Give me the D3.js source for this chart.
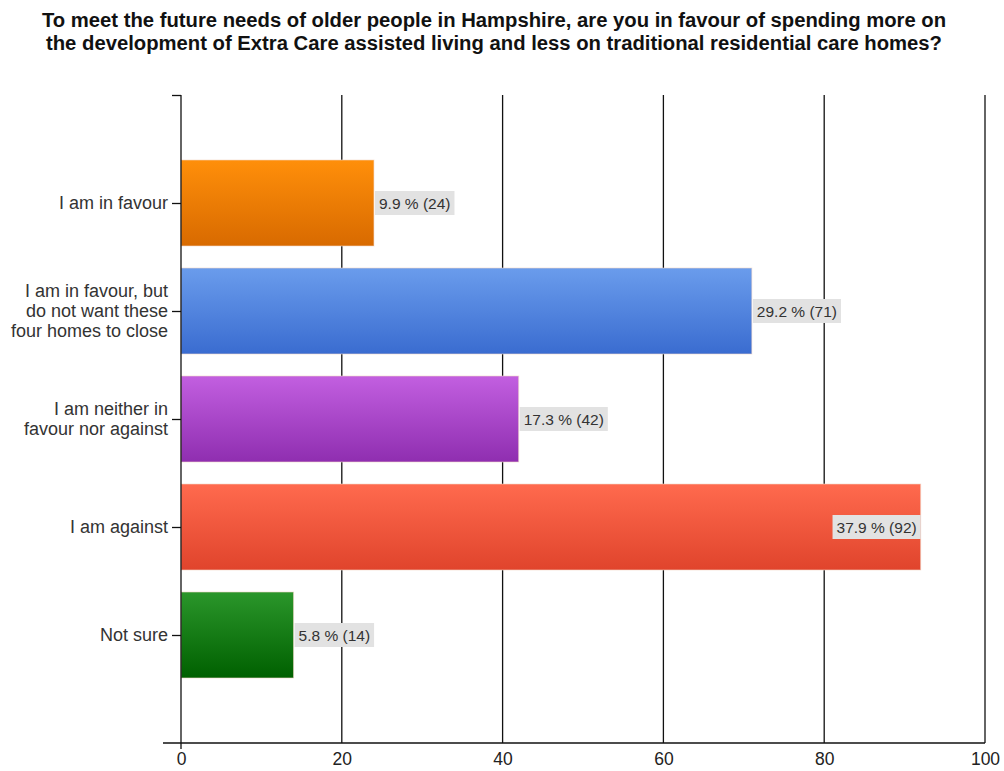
<!DOCTYPE html>
<html>
<head>
<meta charset="utf-8">
<script src="https://cdn.jsdelivr.net/npm/d3@7"></script>
<style>
  body { margin: 0; background: #fff; }
  svg { display: block; }
</style>
</head>
<body>
<svg id="chart" width="1004" height="771"></svg>
<script>
// Survey responses
const categories = [
  "I am in favour",
  "I am in favour, but do not want these four homes to close",
  "I am neither in favour nor against",
  "I am against",
  "Not sure"
];
const categoryLines = [
  ["I am in favour"],
  ["I am in favour, but", "do not want these", "four homes to close"],
  ["I am neither in", "favour nor against"],
  ["I am against"],
  ["Not sure"]
];
const counts = [24, 71, 42, 92, 14];
const percents = [9.9, 29.2, 17.3, 37.9, 5.8];
const xTicks = [0, 20, 40, 60, 80, 100];
const titleLines = [
  "To meet the future needs of older people in Hampshire, are you in favour of spending more on",
  "the development of Extra Care assisted living and less on traditional residential care homes?"
];
const barColors = [
  ["#ff8f0a", "#d86a00"],
  ["#6a9cec", "#3a6cd0"],
  ["#c25fe0", "#8f2eb0"],
  ["#ff6a4e", "#e0442c"],
  ["#2b962b", "#006000"]
];

const FONT = "Liberation Sans, Arial, sans-serif";
const svg = d3.select("#chart");
const plotL = 181, plotR = 985, plotT = 95, plotB = 743;

const x = d3.scaleLinear().domain([0, 100]).range([plotL, plotR]);
// one empty slot above and below the five categories
const y = d3.scalePoint().domain(["", ...categories, " "]).range([plotT, plotB]);
const barH = 86;

// gradients
const defs = svg.append("defs");
barColors.forEach((c, i) => {
  const g = defs.append("linearGradient").attr("id", "g" + i)
    .attr("x1", 0).attr("y1", 0).attr("x2", 0).attr("y2", 1);
  g.append("stop").attr("offset", "0%").attr("stop-color", c[0]);
  g.append("stop").attr("offset", "100%").attr("stop-color", c[1]);
});

// title
svg.append("g").selectAll("text").data(titleLines).join("text")
  .attr("x", 494).attr("y", (d, i) => 27 + i * 23)
  .attr("text-anchor", "middle")
  .attr("font-family", FONT)
  .attr("font-weight", "bold").attr("font-size", 20)
  .attr("fill", "#111")
  .attr("textLength", (d, i) => i === 0 ? 904 : 896)
  .attr("lengthAdjust", "spacingAndGlyphs")
  .text(d => d);

// vertical gridlines
svg.append("g").selectAll("line").data(xTicks.slice(1)).join("line")
  .attr("x1", d => x(d)).attr("x2", d => x(d))
  .attr("y1", plotT).attr("y2", plotB)
  .attr("stroke", "#111").attr("stroke-width", 1.3);

// bars
svg.append("g").selectAll("rect").data(categories).join("rect")
  .attr("x", x(0))
  .attr("y", d => y(d) - barH / 2)
  .attr("width", (d, i) => x(counts[i]) - x(0))
  .attr("height", barH)
  .attr("fill", (d, i) => `url(#g${i})`)
  .attr("stroke", "#f4d8c8").attr("stroke-opacity", 0.6).attr("stroke-width", 1);

// bottom axis
const xAxis = svg.append("g").attr("transform", `translate(0,${plotB})`)
  .call(d3.axisBottom(x).tickValues(xTicks).tickSize(0).tickPadding(10));
xAxis.select(".domain").remove();
xAxis.append("line").attr("x1", 163).attr("x2", plotR).attr("y1", 0).attr("y2", 0)
  .attr("stroke", "#111").attr("stroke-width", 1.3);
xAxis.selectAll("text")
  .attr("font-family", FONT)
  .attr("font-size", 17.5).attr("fill", "#222");

// left axis
const yAxis = svg.append("g").attr("transform", `translate(${plotL},0)`)
  .call(d3.axisLeft(y).tickSize(9).tickFormat(""));
yAxis.select(".domain").remove();
yAxis.append("line").attr("x1", 0).attr("x2", 0).attr("y1", plotT).attr("y2", plotB + 6)
  .attr("stroke", "#111").attr("stroke-width", 1.3);
yAxis.selectAll(".tick").filter(d => d === " ").remove();
yAxis.selectAll(".tick line").attr("stroke", "#111").attr("stroke-width", 1.3);

// category labels
const catG = svg.append("g");
categories.forEach((c, i) => {
  const lines = categoryLines[i];
  const lh = 20;
  const y0 = y(c) - (lines.length - 1) * lh / 2;
  catG.append("text")
    .attr("text-anchor", "end")
    .attr("font-family", FONT)
    .attr("font-size", 18).attr("fill", "#333")
    .selectAll("tspan").data(lines).join("tspan")
    .attr("x", 168).attr("y", (d, j) => y0 + j * lh + 6)
    .text(d => d);
});

// value labels
const lblG = svg.append("g");
categories.forEach((c, i) => {
  const txt = `${percents[i]} % (${counts[i]})`;
  const t = lblG.append("text")
    .attr("font-family", FONT)
    .attr("font-size", 15.5).attr("fill", "#333")
    .attr("y", y(c) + 5.5)
    .text(txt);
  const w = t.node().getComputedTextLength() + 8;
  const inside = x(counts[i]) + w > plotR - 40;
  const bx = inside ? x(counts[i]) - w : x(counts[i]) + 1;
  t.attr("x", bx + 4);
  lblG.insert("rect", () => t.node())
    .attr("x", bx).attr("y", y(c) - 12).attr("width", w).attr("height", 24)
    .attr("fill", "#e2e2e2");
});
</script>
</body>
</html>
